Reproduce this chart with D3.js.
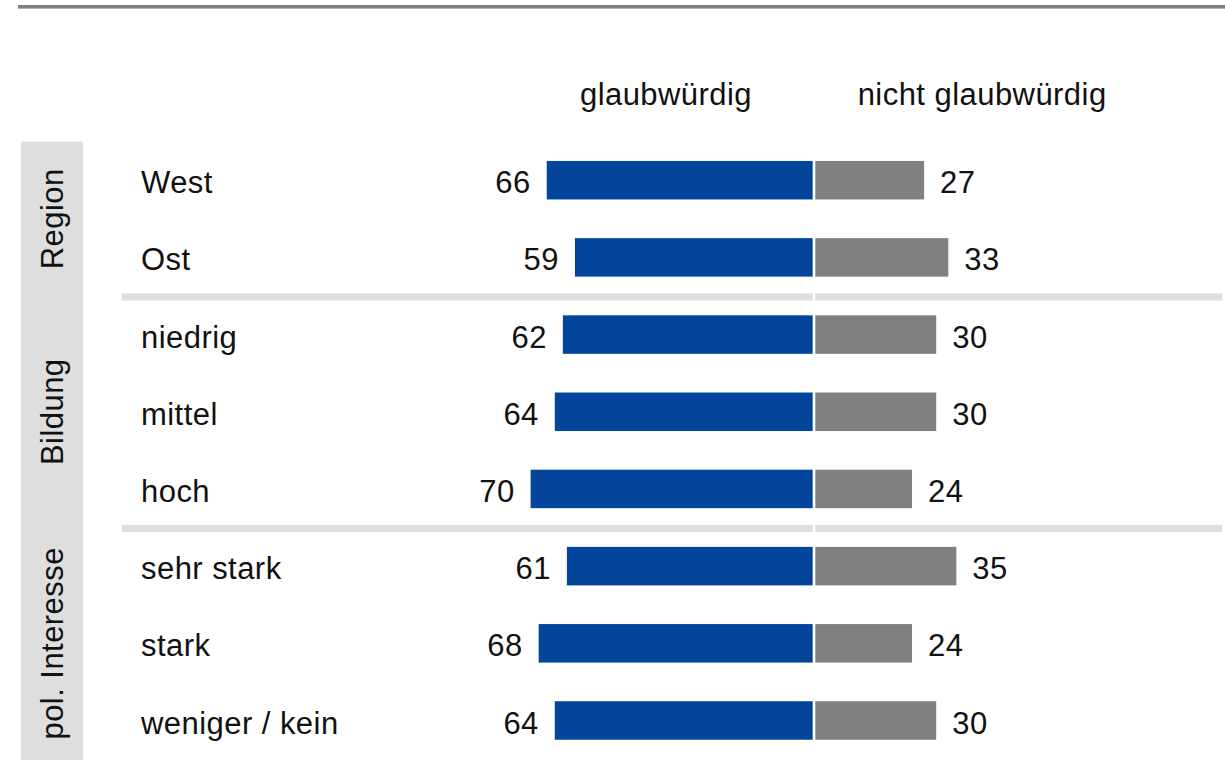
<!DOCTYPE html>
<html>
<head>
<meta charset="utf-8">
<script src="https://cdn.jsdelivr.net/npm/d3@7"></script>
<style>
  html, body { margin: 0; padding: 0; background: #fff; }
  svg text { font-family: "Liberation Sans", Arial, sans-serif; fill: #111; letter-spacing: 0.45px; }
</style>
</head>
<body>
<svg id="chart" width="1225" height="760"></svg>
<script>
// Glaubwürdigkeit nach Region, Bildung und politischem Interesse (in Prozent)

const groups = ["Region", "Bildung", "pol. Interesse"];
const categories = ["West", "Ost", "niedrig", "mittel", "hoch", "sehr stark", "stark", "weniger / kein"];
const categoryGroup = ["Region", "Region", "Bildung", "Bildung", "Bildung", "pol. Interesse", "pol. Interesse", "pol. Interesse"];
const glaubwuerdig = [66, 59, 62, 64, 70, 61, 68, 64];
const nichtGlaubwuerdig = [27, 33, 30, 30, 24, 35, 24, 30];
const headers = ["glaubwürdig", "nicht glaubwürdig"];

const width = 1225, height = 760;
const centerLeft = 812.7, centerRight = 815.3;
const pxPerUnit = 4.03;
const leftMax = 72.8, rightMax = 82.8;   // Panelbreiten in Prozentpunkten
const fontSize = 31;

const rows = categories.map((c, i) => ({
    name: c,
    group: categoryGroup[i],
    yes: glaubwuerdig[i],
    no: nichtGlaubwuerdig[i]
}));

const svg = d3.select('#chart');

// Skalen
const xL = d3.scaleLinear().domain([0, leftMax]).range([centerLeft, centerLeft - leftMax * pxPerUnit]);
const xR = d3.scaleLinear().domain([0, rightMax]).range([centerRight, centerRight + rightMax * pxPerUnit]);
const y = d3.scalePoint().domain(categories).range([180.2, 720.5]);
const step = y.step();
const barH = 38.5;

// obere Linie
svg.append('rect')
    .attr('x', 18).attr('y', 5)
    .attr('width', width - 18).attr('height', 3.6)
    .attr('fill', '#808080');

// Spaltenköpfe
svg.selectAll('text.header')
    .data(headers)
    .enter()
    .append('text')
    .attr('class', 'header')
    .attr('x', (d, i) => i === 0 ? xL(leftMax / 2) : xR(rightMax / 2))
    .attr('y', 105)
    .attr('text-anchor', 'middle')
    .style('font-size', fontSize + 'px')
    .text(d => d);

// Gruppen-Streifen links
const groupExtent = groups.map(g => {
    const members = rows.filter(r => r.group === g);
    const top = y(members[0].name) - step / 2;
    const bottom = y(members[members.length - 1].name) + step / 2;
    return { name: g, top: top, bottom: bottom };
});

svg.selectAll('rect.strip')
    .data(groupExtent)
    .enter()
    .append('rect')
    .attr('class', 'strip')
    .attr('x', 21)
    .attr('y', d => d.top)
    .attr('width', 62)
    .attr('height', d => d.bottom - d.top + 1)
    .attr('fill', '#dedede');

svg.selectAll('text.strip-label')
    .data(groupExtent)
    .enter()
    .append('text')
    .attr('class', 'strip-label')
    .attr('transform', d => `translate(63,${(d.top + d.bottom) / 2}) rotate(-90)`)
    .attr('text-anchor', 'middle')
    .style('font-size', fontSize + 'px')
    .text(d => d.name);

// Trennlinien zwischen den Gruppen
const separators = groupExtent.slice(1).map(d => d.top + 1);
separators.forEach(sy => {
    svg.append('rect')
        .attr('x', 122).attr('y', sy - 3.5)
        .attr('width', centerLeft - 122).attr('height', 7)
        .attr('fill', '#dedede');
    svg.append('rect')
        .attr('x', centerRight).attr('y', sy - 3.5)
        .attr('width', 1222 - centerRight).attr('height', 7)
        .attr('fill', '#dedede');
});

// Kategorie-Beschriftungen
svg.selectAll('text.cat')
    .data(rows)
    .enter()
    .append('text')
    .attr('class', 'cat')
    .attr('x', 141)
    .attr('y', d => y(d.name))
    .attr('dy', '0.42em')
    .style('font-size', fontSize + 'px')
    .text(d => d.name);

// Balken glaubwürdig (links)
svg.selectAll('rect.yes')
    .data(rows)
    .enter()
    .append('rect')
    .attr('class', 'yes')
    .attr('x', d => xL(d.yes))
    .attr('y', d => y(d.name) - barH / 2)
    .attr('width', d => xL(0) - xL(d.yes))
    .attr('height', barH)
    .attr('fill', '#03459A');

// Balken nicht glaubwürdig (rechts)
svg.selectAll('rect.no')
    .data(rows)
    .enter()
    .append('rect')
    .attr('class', 'no')
    .attr('x', xR(0))
    .attr('y', d => y(d.name) - barH / 2)
    .attr('width', d => xR(d.no) - xR(0))
    .attr('height', barH)
    .attr('fill', '#808080');

// Werte
svg.selectAll('text.val-yes')
    .data(rows)
    .enter()
    .append('text')
    .attr('class', 'val-yes')
    .attr('x', d => xL(d.yes) - 16)
    .attr('y', d => y(d.name))
    .attr('dy', '0.42em')
    .attr('text-anchor', 'end')
    .style('font-size', fontSize + 'px')
    .text(d => d.yes);

svg.selectAll('text.val-no')
    .data(rows)
    .enter()
    .append('text')
    .attr('class', 'val-no')
    .attr('x', d => xR(d.no) + 16)
    .attr('y', d => y(d.name))
    .attr('dy', '0.42em')
    .style('font-size', fontSize + 'px')
    .text(d => d.no);
</script>
</body>
</html>
